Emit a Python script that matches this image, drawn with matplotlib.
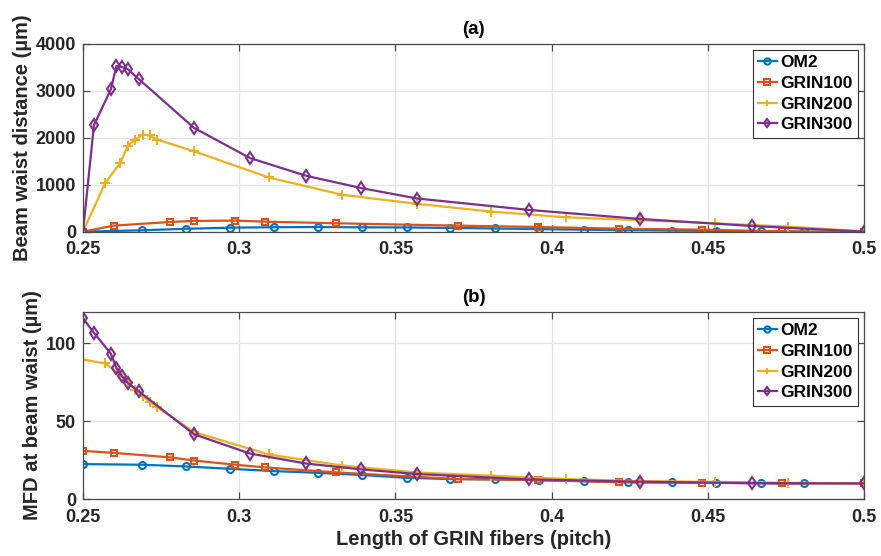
import matplotlib
matplotlib.use("Agg")
import matplotlib.pyplot as plt

plt.rcParams['font.family'] = ['Liberation Sans', 'DejaVu Sans']
plt.rcParams['font.weight'] = 'bold'

# ---------------- data ----------------
om2_x = [0.25, 0.2689, 0.283, 0.297, 0.3112, 0.3253, 0.3393, 0.3536, 0.3676, 0.382,
         0.3961, 0.4103, 0.4244, 0.4385, 0.4526, 0.4669, 0.4809]
om2_dist = [0, 30, 62, 85, 95, 100, 93, 90, 80, 68, 55, 42, 32, 24, 16, 9, 4]
om2_mfd = [22.4, 22.0, 20.9, 19.4, 17.9, 16.8, 15.4, 13.6, 12.8, 12.6, 12.0, 11.5,
           10.9, 10.7, 10.4, 10.2, 10.0]

g100_x = [0.25, 0.2598, 0.278, 0.2855, 0.2987, 0.3083, 0.3309, 0.3699, 0.3958,
          0.4217, 0.448, 0.4739, 0.5]
g100_dist = [0, 129, 207, 229, 236, 214, 179, 129, 100, 64, 43, 7, 0]
g100_mfd = [30.9, 29.6, 26.7, 24.7, 22.0, 20.3, 17.1, 12.8, 12.2, 10.7, 10.4, 10.0, 10.0]

g200_x = [0.25, 0.2571, 0.2619, 0.2644, 0.2668, 0.2691, 0.2713, 0.2737, 0.2855,
          0.3094, 0.333, 0.357, 0.3806, 0.4045, 0.4284, 0.4522, 0.4758, 0.5]
g200_dist = [0, 1036, 1464, 1836, 1964, 2071, 2050, 1964, 1714, 1157, 786, 593,
             429, 307, 245, 179, 107, 10]
g200_mfd = [89.5, 87, 80, 75, 70, 66, 62.5, 59, 43, 28.6, 21.5, 17, 15, 12.8,
            11.5, 11, 10.4, 10]

g300_x = [0.25, 0.2535, 0.2589, 0.2607, 0.2624, 0.2643, 0.2679, 0.2855, 0.3034,
          0.3213, 0.3391, 0.357, 0.3927, 0.4284, 0.4643, 0.5]
g300_dist = [0, 2270, 3030, 3530, 3510, 3465, 3250, 2214, 1571, 1193, 929, 707,
             464, 271, 121, 0]
g300_mfd = [116, 106.7, 93.3, 84, 79, 74.5, 69, 41.6, 29.2, 22.8, 19.0, 16.0,
            12.6, 11.1, 10.2, 10.0]

labels = ['OM2', 'GRIN100', 'GRIN200', 'GRIN300']
colors = ['#0072BD', '#D95319', '#EDB120', '#7E2F8E']
markers = ['o', 's', '+', 'd']

x_ticks = [0.25, 0.3, 0.35, 0.4, 0.45, 0.5]
x_ticklabels = ['0.25', '0.3', '0.35', '0.4', '0.45', '0.5']
top_yticks = [0, 1000, 2000, 3000, 4000]
bot_yticks = [0, 50, 100]

TXT = '#262626'

fig = plt.figure(figsize=(8.81, 5.56), dpi=100)
ax1 = fig.add_axes([0.0942, 0.5833, 0.8865, 0.3376])
ax2 = fig.add_axes([0.0942, 0.1025, 0.8865, 0.3363])

series_top = [(om2_x, om2_dist), (g100_x, g100_dist), (g200_x, g200_dist), (g300_x, g300_dist)]
series_bot = [(om2_x, om2_mfd), (g100_x, g100_mfd), (g200_x, g200_mfd), (g300_x, g300_mfd)]


def style(ax, yticks, ylim, ylabel, title):
    ax.set_xlim(0.25, 0.5)
    ax.set_ylim(*ylim)
    ax.set_xticks(x_ticks)
    ax.set_xticklabels(x_ticklabels)
    ax.set_yticks(yticks)
    ax.grid(True, color='#e3e3e3', linewidth=0.9)
    ax.set_axisbelow(True)
    for s in ax.spines.values():
        s.set_color('#4a4a4a')
        s.set_linewidth(0.9)
    ax.tick_params(direction='in', length=5, width=0.9, color='#4a4a4a',
                   top=True, right=True, labelsize=13, labelcolor=TXT)
    ax.tick_params(axis='x', pad=7)
    ax.tick_params(axis='y', pad=5)
    for lab in ax.get_xticklabels() + ax.get_yticklabels():
        lab.set_fontweight('bold')
    ax.set_ylabel(ylabel, fontsize=14.5, fontweight='bold', color=TXT, labelpad=3)
    ax.set_title(title, fontsize=13.5, fontweight='bold', color='black', pad=7)


for ax, series in ((ax1, series_top), (ax2, series_bot)):
    for (xs, ys), lab, c, m in zip(series, labels, colors, markers):
        ms = 7.5 if m == '+' else (6 if m == 'd' else 5)
        ax.plot(xs, ys, color=c, linewidth=1.6, marker=m, markersize=ms,
                markerfacecolor='none', markeredgewidth=1.5, label=lab)
    leg = ax.legend(loc='upper right', bbox_to_anchor=(0.9923, 0.968),
                    borderaxespad=0, handlelength=1.1,
                    handletextpad=0.2, labelspacing=0.32, borderpad=0.3,
                    fancybox=False, framealpha=1, edgecolor='#333333',
                    prop={'weight': 'bold', 'size': 12.5})
    leg.get_frame().set_linewidth(0.8)
    for h in leg.legend_handles:
        h.set_markersize(4.5)

style(ax1, top_yticks, (0, 4000), 'Beam waist distance (µm)', '(a)')
style(ax2, bot_yticks, (0, 120), 'MFD at beam waist (µm)', '(b)')
ax2.set_xlabel('Length of GRIN fibers (pitch)', fontsize=14.5, fontweight='bold',
               color=TXT, labelpad=3)

fig.savefig('out.png', dpi=100)
